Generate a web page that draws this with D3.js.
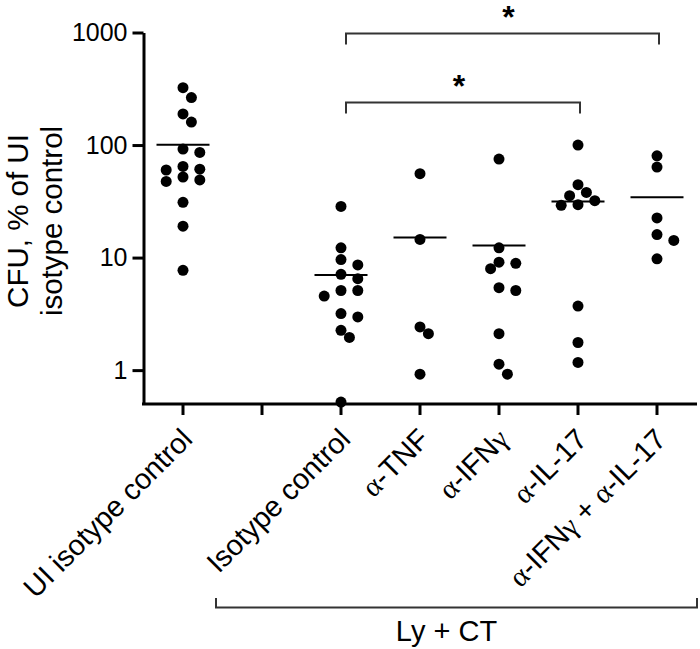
<!DOCTYPE html>
<html>
<head>
<meta charset="utf-8">
<script src="https://cdn.jsdelivr.net/npm/d3@7"></script>
<style>
  html, body { margin: 0; padding: 0; background: #fff; }
  svg { display: block; }
  text { font-family: "Liberation Sans", Arial, sans-serif; fill: #000; }
</style>
</head>
<body>
<svg id="chart" width="700" height="649"></svg>
<script>
// ---------- data ----------
const categories = ["UI isotype control", "", "Isotype control", "α-TNF", "α-IFNγ", "α-IL-17", "α-IFNγ + α-IL-17"];

const uiIsotype   = [323, 264, 189, 160, 92, 86, 64.5, 61, 60, 52, 49, 47.5, 31, 19, 7.7];
const isotype     = [28.5, 12.2, 9.6, 8.6, 7.1, 6.5, 5.1, 5.1, 4.55, 3.18, 2.97, 2.26, 1.95, 0.52];
const antiTNF     = [55.6, 14.5, 2.42, 2.11, 0.92];
const antiIFNg    = [75, 12.2, 9.1, 8.9, 7.96, 5.4, 5.1, 2.11, 1.13, 0.92];
const antiIL17    = [100, 44.4, 37.9, 35.5, 32, 29.5, 29.1, 3.71, 1.76, 1.17];
const antiIFNgIL17 = [80.2, 63.7, 22.5, 16, 14.2, 9.75];

const seriesValues = [uiIsotype, [], isotype, antiTNF, antiIFNg, antiIL17, antiIFNgIL17];

const yTickValues = [1, 10, 100, 1000];
const yTitleLines = ["CFU, % of UI", "isotype control"];
const groupLabel = "Ly + CT";
const sigComparisons = [
  { from: "Isotype control", to: "α-IL-17", label: "*" },
  { from: "Isotype control", to: "α-IFNγ + α-IL-17", label: "*" }
];

// ---------- chart ----------
const svg = d3.select("#chart");

const x = d3.scaleBand().domain(categories).range([143.5, 696.5]).paddingInner(0).paddingOuter(0);
const cx = c => x(c) + x.bandwidth() / 2;
const y = d3.scaleLog().domain([0.5, 1000]).range([404, 32.5]);

// y axis
const yAxis = svg.append("g")
  .attr("transform", "translate(143.5,0)")
  .call(d3.axisLeft(y).tickValues(yTickValues).tickFormat(d3.format("d")).tickSize(11).tickSizeOuter(0).tickPadding(5));
yAxis.select(".domain").attr("stroke-width", 3).attr("stroke", "#000");
yAxis.selectAll(".tick line").attr("stroke-width", 3).attr("stroke", "#000");
yAxis.selectAll(".tick text").attr("font-size", 25).attr("font-family", "Liberation Sans, Arial, sans-serif").attr("fill", "#000");

// x axis
const xAxis = svg.append("g")
  .attr("transform", "translate(0,404)")
  .call(d3.axisBottom(x).tickSize(11).tickSizeOuter(0).tickFormat(""));
xAxis.select(".domain").attr("stroke-width", 3).attr("stroke", "#000")
  .attr("d", "M142,0H697");
xAxis.selectAll(".tick line").attr("stroke-width", 3).attr("stroke", "#000");

// x labels (rotated, Greek letters in serif)
categories.forEach(c => {
  if (!c) return;
  const t = svg.append("text")
    .attr("transform", `translate(${cx(c) + 11},441) rotate(-45)`)
    .attr("text-anchor", "end")
    .attr("font-size", 29);
  const parts = c.split(/([αγ])/).filter(s => s.length);
  parts.forEach(p => {
    const ts = t.append("tspan").text(p);
    if (p === "α" || p === "γ") ts.attr("font-family", "Liberation Serif, DejaVu Serif, serif");
  });
});

// y title
yTitleLines.forEach((line, i) => {
  svg.append("text")
    .attr("transform", `translate(${28 + i * 34},221) rotate(-90)`)
    .attr("text-anchor", "middle")
    .attr("font-size", 29.5)
    .text(line);
});

// dots with simple swarm layout
const r = 5.5;
function swarm(vals) {
  const pts = vals.map(v => ({ v, py: y(v) })).sort((a, b) => a.py - b.py);
  const placed = [];
  const step = 8.4, minD = 10.5;
  pts.forEach(p => {
    for (let k = 0; k < 50; k++) {
      const off = k === 0 ? 0 : (k % 2 ? 1 : -1) * Math.ceil(k / 2) * step;
      if (placed.every(q => Math.hypot(q.dx - off, q.py - p.py) >= minD)) { p.dx = off; break; }
    }
    placed.push(p);
  });
  return pts;
}

categories.forEach((c, i) => {
  const vals = seriesValues[i];
  if (!vals.length) return;
  const pts = swarm(vals);
  svg.append("g").selectAll("circle").data(pts).join("circle")
    .attr("cx", d => cx(c) + d.dx)
    .attr("cy", d => d.py)
    .attr("r", r)
    .attr("fill", "#000");
  const m = d3.mean(vals);
  svg.append("line")
    .attr("x1", cx(c) - 26.5).attr("x2", cx(c) + 26.5)
    .attr("y1", y(m)).attr("y2", y(m))
    .attr("stroke", "#000").attr("stroke-width", 2);
});

// significance brackets
const bracketLevels = [102.5, 33.5];
sigComparisons.forEach((s, i) => {
  const x1 = cx(s.from) + 5, x2 = cx(s.to) + 2, yy = bracketLevels[i];
  svg.append("path")
    .attr("d", `M${x1},${yy + 11}V${yy}H${x2}V${yy + 11}`)
    .attr("fill", "none").attr("stroke", "#333").attr("stroke-width", 2);
  svg.append("text")
    .attr("x", (x1 + x2) / 2 + (i ? 6 : -4))
    .attr("y", yy - 6)
    .attr("text-anchor", "middle")
    .attr("font-size", 32)
    .attr("font-weight", "bold")
    .text(s.label);
});

// group bracket
svg.append("path")
  .attr("d", "M216,598V607.5H697V598")
  .attr("fill", "none").attr("stroke", "#333").attr("stroke-width", 2);
svg.append("text")
  .attr("x", 446.5).attr("y", 641)
  .attr("text-anchor", "middle")
  .attr("font-size", 29)
  .text(groupLabel);
</script>
</body>
</html>
